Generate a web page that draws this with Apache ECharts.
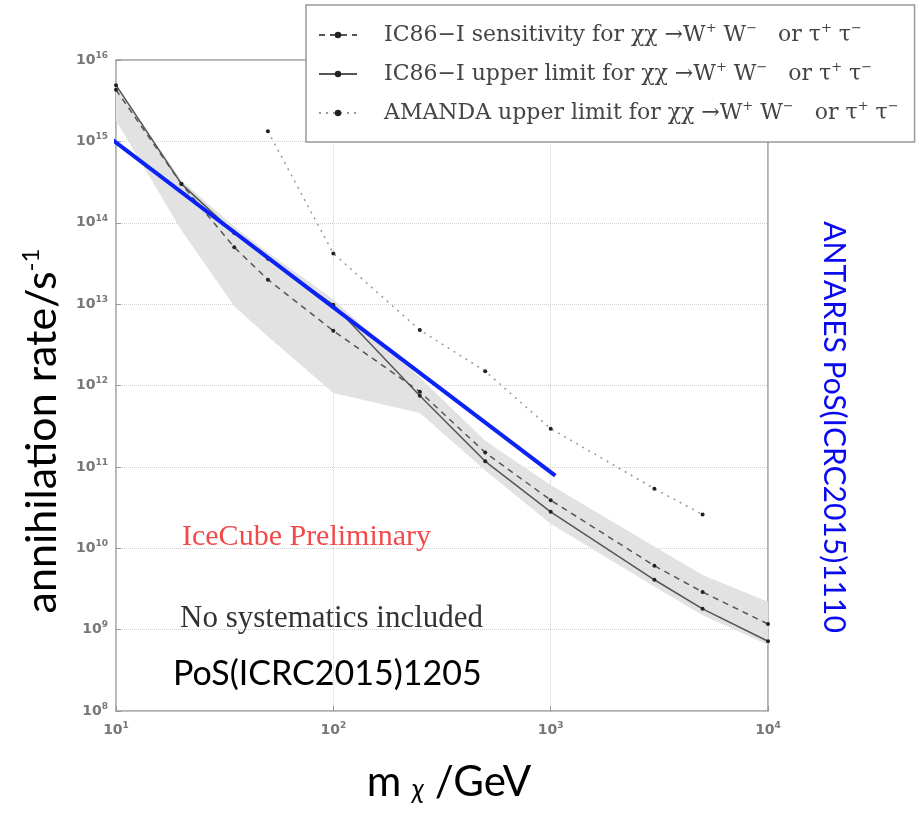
<!DOCTYPE html>
<html>
<head>
<meta charset="utf-8">
<script src="https://cdn.jsdelivr.net/npm/echarts@6/dist/echarts.min.js"></script>
<style>html,body{margin:0;padding:0;background:#fff}#c{width:918px;height:813px}</style>
</head>
<body>
<div id="c"></div>
<script>
// ---- data ----
const massX = [10, 20, 35, 50, 100, 250, 500, 1000, 3000, 5000, 10000];
const sensitivity = [4.3e15, 3.0e14, 5.0e13, 2.0e13, 4.7e12, 8.4e11, 1.5e11, 3.9e10, 6.1e9, 2.9e9, 1.17e9];
const upperLimit  = [4.9e15, 3.0e14, 7.5e13, 3.6e13, 9.8e12, 7.5e11, 1.17e11, 2.8e10, 4.1e9, 1.8e9, 7.2e8];
const amandaX = [50, 100, 250, 500, 1000, 3000, 5000];
const amanda  = [1.33e15, 4.2e13, 4.8e12, 1.5e12, 2.95e11, 5.4e10, 2.6e10];
const bandUpper = [5.0e15, 3.3e14, 9.0e13, 4.3e13, 1.15e13, 1.25e12, 2.1e11, 6.0e10, 1.05e10, 4.7e9, 2.2e9];
const bandLower = [1.8e15, 8.1e13, 9.4e12, 4.0e12, 8.1e11, 4.6e11, 9.0e10, 2.0e10, 3.4e9, 1.5e9, 6.5e8];
const antaresX = [9.4, 1050];
const antaresY = [1.1e15, 7.8e10];
const seriesNames = ['IC86−I sensitivity', 'IC86−I upper limit', 'AMANDA upper limit'];

const pairs = (xs, ys) => xs.map((x, i) => [x, ys[i]]);
const legendRich = name =>
  '{g| }{t|' + name + ' for χχ →W}{s|+}{t| W}{s|−}{t|   or τ}{s|+}{t| τ}{s|−}';

const chart = echarts.init(document.getElementById('c'), null, {renderer: 'canvas'});
const tickFmt = v => '{b|10}{s|' + Math.round(Math.log10(v)) + '}';
const tickRich = {
  b: {fontFamily: 'DejaVu Sans', fontSize: 14, fontWeight: 'bold', color: '#777'},
  s: {fontFamily: 'DejaVu Sans', fontSize: 9, fontWeight: 'bold', color: '#777', padding: [0, 0, 9, 0]}
};

chart.setOption({
  animation: false,
  grid: {left: 116, top: 60, width: 652, height: 651, show: true, borderColor: '#999', borderWidth: 1.5},
  xAxis: {
    type: 'log', logBase: 10, min: 10, max: 10000,
    axisLine: {show: false},
    axisTick: {inside: true, length: 5, lineStyle: {color: '#999'}},
    splitLine: {show: true, lineStyle: {color: '#d0d0d0', type: 'dotted', width: 1}},
    axisLabel: {formatter: tickFmt, rich: tickRich, margin: 10}
  },
  yAxis: {
    type: 'log', logBase: 10, min: 1e8, max: 1e16, splitNumber: 8,
    axisLine: {show: false},
    axisTick: {inside: true, length: 5, lineStyle: {color: '#999'}},
    splitLine: {show: true, lineStyle: {color: '#d0d0d0', type: 'dotted', width: 1}},
    axisLabel: {formatter: tickFmt, rich: tickRich, margin: 8}
  },
  legend: {
    data: seriesNames,
    orient: 'vertical',
    left: 306, top: 5,
    padding: [17, 16, 18, 12],
    itemGap: 15,
    itemWidth: 38, itemHeight: 8,
    backgroundColor: '#fff',
    borderColor: '#999', borderWidth: 1.5,
    formatter: legendRich,
    textStyle: {
      rich: {
        g: {width: 22},
        t: {fontFamily: 'DejaVu Serif', fontSize: 22, color: '#444', lineHeight: 26},
        s: {fontFamily: 'DejaVu Serif', fontSize: 13, color: '#444', padding: [0, 0, 13, 0]}
      }
    }
  },
  series: [
    {
      type: 'custom', name: 'band', silent: true, z: 1,
      data: [[100, 1e12]],
      renderItem: (params, api) => {
        const up = massX.map((x, i) => api.coord([x, bandUpper[i]]));
        const lo = massX.map((x, i) => api.coord([x, bandLower[i]])).reverse();
        return {type: 'polygon', shape: {points: up.concat(lo)}, style: {fill: '#e2e2e2'}};
      }
    },
    {
      name: seriesNames[0], type: 'line', z: 3, data: pairs(massX, sensitivity),
      symbol: 'circle', symbolSize: 4, itemStyle: {color: '#222'},
      lineStyle: {color: '#555', width: 1.5, type: [6, 5]}
    },
    {
      name: seriesNames[1], type: 'line', z: 3, data: pairs(massX, upperLimit),
      symbol: 'circle', symbolSize: 4, itemStyle: {color: '#222'},
      lineStyle: {color: '#555', width: 1.5, type: 'solid'}
    },
    {
      name: seriesNames[2], type: 'line', z: 3, data: pairs(amandaX, amanda),
      symbol: 'circle', symbolSize: 4, itemStyle: {color: '#222'},
      lineStyle: {color: '#999', width: 1.5, type: [2, 5]}
    },
    {
      name: 'ANTARES', type: 'line', z: 5, clip: false, data: pairs(antaresX, antaresY),
      symbol: 'none', lineStyle: {color: '#0a22f5', width: 4}
    }
  ],
  graphic: [
    {type: 'text', left: 182, top: 522, z: 10,
     style: {text: 'IceCube Preliminary', fontFamily: 'Liberation Serif', fontSize: 30, fill: '#f24a4a'}},
    {type: 'text', left: 180, top: 603, z: 10,
     style: {text: 'No systematics included', fontFamily: 'Liberation Serif', fontSize: 31, fill: '#333'}},
    {type: 'text', left: 173, top: 657, z: 10,
     style: {text: 'PoS(ICRC2015)1205', fontFamily: 'Lato', fontSize: 34, fill: '#000'}},
    {type: 'text', x: 42, y: 431, rotation: Math.PI / 2, z: 10,
     style: {text: '{a|annihilation rate/s}{b|-1}', align: 'center', verticalAlign: 'middle',
       rich: {a: {fontFamily: 'Lato', fontSize: 43, fill: '#000'},
              b: {fontFamily: 'Lato', fontSize: 24, fill: '#000', padding: [0, 0, 22, 0]}}}},
    {type: 'text', x: 449, y: 782, z: 10,
     style: {text: '{a|m }{c|χ}{a| /GeV}', align: 'center', verticalAlign: 'middle',
       rich: {a: {fontFamily: 'Lato', fontSize: 42, fill: '#000'},
              c: {fontFamily: 'Lato', fontStyle: 'italic', fontSize: 27, fill: '#000', padding: [14, 0, 0, 0]}}}},
    {type: 'text', x: 834, y: 427, rotation: -Math.PI / 2, z: 10,
     style: {text: 'ANTARES PoS(ICRC2015)1110', align: 'center', verticalAlign: 'middle',
       fontFamily: 'Lato', fontSize: 30, fill: '#0a0af0'}}
  ]
});
</script>
</body>
</html>
